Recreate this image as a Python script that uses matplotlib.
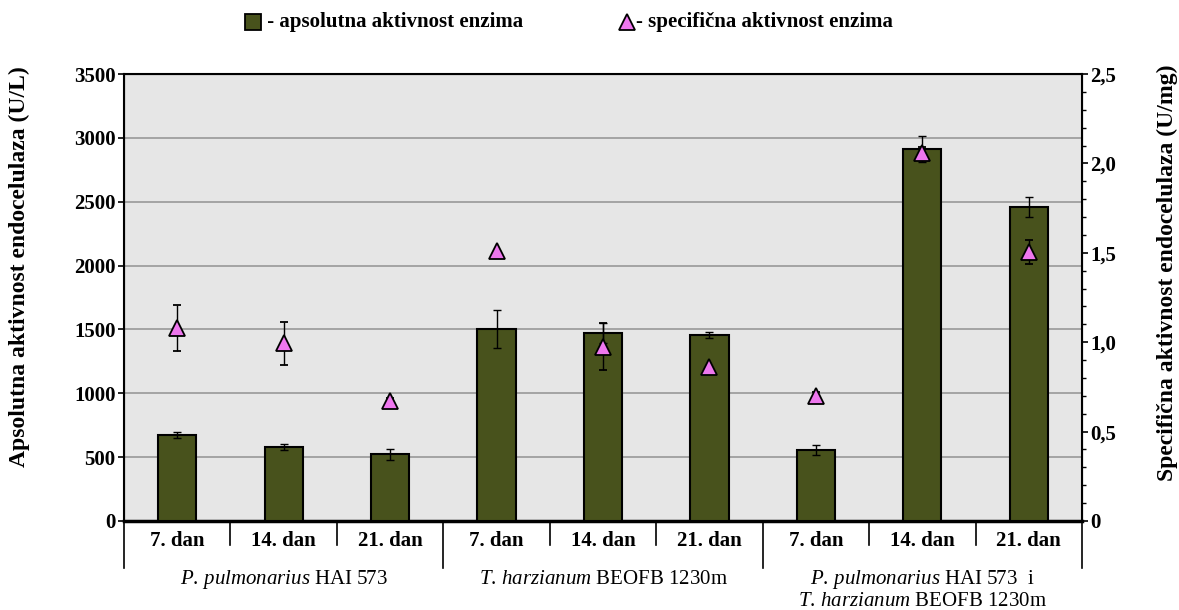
import numpy as np
import matplotlib
matplotlib.use("Agg")
import matplotlib.pyplot as plt
from matplotlib.lines import Line2D
from matplotlib.ticker import MultipleLocator

plt.rcParams["font.family"] = ["Liberation Serif", "DejaVu Serif"]
plt.rcParams["font.weight"] = "bold"
plt.rcParams["mathtext.fontset"] = "custom"
plt.rcParams["mathtext.it"] = "Liberation Serif:style=italic:weight=normal"
plt.rcParams["mathtext.rm"] = "Liberation Serif:weight=normal"

days = ["7. dan", "14. dan", "21. dan"] * 3
groups = ["P. pulmonarius HAI 573", "T. harzianum BEOFB 1230m",
          "P. pulmonarius HAI 573  i\nT. harzianum BEOFB 1230m"]

# apsolutna aktivnost (U/L)
absolute = [673, 577, 522, 1503, 1472, 1456, 556, 2913, 2459]
absolute_err = [22, 22, 42, 148, 80, 25, 38, 100, 75]

# specificna aktivnost (U/mg)
specific = [1.08, 0.995, 0.67, 1.51, 0.975, 0.86, 0.70, 2.06, 1.505]
specific_err = [0.13, 0.12, 0.02, 0.0, 0.13, 0.0, 0.02, 0.03, 0.065]

bar_color = "#48521c"
tri_color = "#ee77ee"
fs = 15


def main():
    fig = plt.figure(figsize=(11.79, 6.10), dpi=100)
    ax = fig.add_axes([124 / 1179, 1 - 521 / 610, 958 / 1179, 447 / 610])
    x = np.arange(len(absolute))

    ax.set_facecolor("#e6e6e6")
    ax.bar(x, absolute, width=0.36, color=bar_color, edgecolor="black",
           linewidth=1.5, zorder=3)
    ax.errorbar(x, absolute, yerr=absolute_err, fmt="none", ecolor="black",
                elinewidth=1, capsize=3, capthick=1, zorder=4)
    ax.set_xlim(-0.5, len(absolute) - 0.5)
    ax.set_ylim(0, 3500)
    ax.yaxis.set_major_locator(MultipleLocator(500))
    ax.grid(axis="y", color="#999999", linewidth=1.2, zorder=0)
    ax.set_xticks([])
    ax.tick_params(axis="y", direction="out", length=4, width=1.2,
                   labelsize=fs, pad=2)
    for s in ax.spines.values():
        s.set_linewidth(1.5)
    ax.spines["bottom"].set_linewidth(2.5)
    ax.set_ylabel("Apsolutna aktivnost endocelulaza (U/L)", fontsize=17,
                  fontweight="bold")
    ax.yaxis.set_label_coords(-0.098, 0.57)

    ax2 = ax.twinx()
    ax2.set_ylim(0, 2.5)
    ax2.yaxis.set_major_locator(MultipleLocator(0.5))
    ax2.yaxis.set_minor_locator(MultipleLocator(0.1))
    ax2.set_yticklabels(["0" if v == 0 else f"{v:.1f}".replace(".", ",")
                         for v in ax2.get_yticks()])
    ax2.tick_params(axis="y", which="major", length=4, width=1.2,
                    labelsize=fs, pad=2)
    ax2.tick_params(axis="y", which="minor", length=3, width=1)
    ax2.errorbar(x, specific, yerr=specific_err, fmt="^", color="black",
                 markerfacecolor=tri_color, markeredgecolor="black",
                 markersize=11, markeredgewidth=1.3, elinewidth=1,
                 capsize=3, capthick=1, zorder=5)
    ax2.set_ylabel("Specifična aktivnost endocelulaza (U/mg)", fontsize=17,
                   fontweight="bold", rotation=90)
    ax2.yaxis.set_label_coords(1.078, 0.555)

    # category table below the axis
    trans = ax.get_xaxis_transform()
    for i in range(len(absolute) + 1):
        xb = i - 0.5
        bottom = -0.105 if i % 3 == 0 else -0.054
        ax.add_line(Line2D([xb, xb], [0, bottom], transform=trans,
                           color="black", linewidth=1.2, clip_on=False))
    for i, d in enumerate(days):
        ax.text(i, -0.045, d, transform=trans, ha="center", va="center",
                fontsize=fs, fontweight="bold")
    for g, name in enumerate(groups):
        for k, line in enumerate(name.split("\n")):
            genus, species, rest = line.split(" ", 2)
            ax.text(g * 3 + 1, -0.13 - k * 0.05,
                    r"$\it{" + genus + r"\," + species + r"}$" + " " + rest,
                    transform=trans, ha="center", va="center", fontsize=fs,
                    fontweight="normal")

    # legend on top
    fig.add_artist(Line2D([253 / 1179], [1 - 22 / 610], marker="s",
                          markersize=11, markerfacecolor=bar_color,
                          markeredgecolor="black", markeredgewidth=1.3,
                          transform=fig.transFigure))
    fig.text(262 / 1179, 1 - 22 / 610, " - apsolutna aktivnost enzima",
             ha="left", va="center", fontsize=fs, fontweight="bold")
    fig.add_artist(Line2D([627 / 1179], [1 - 22 / 610], marker="^",
                          markersize=12, markerfacecolor=tri_color,
                          markeredgecolor="black", markeredgewidth=1.3,
                          transform=fig.transFigure))
    fig.text(636 / 1179, 1 - 22 / 610, "- specifična aktivnost enzima",
             ha="left", va="center", fontsize=fs, fontweight="bold")

    fig.savefig("out.png", dpi=100)


if __name__ == "__main__":
    main()
